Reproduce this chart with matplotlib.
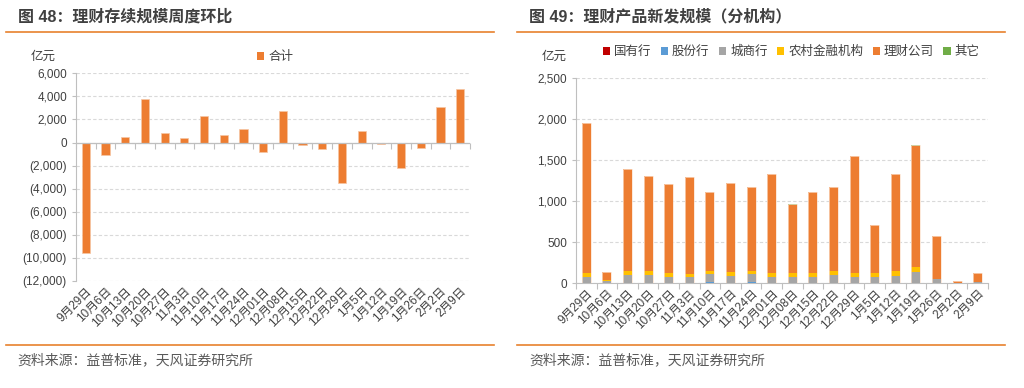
import matplotlib
matplotlib.use("Agg")
import matplotlib.pyplot as plt
from matplotlib.patches import Patch
from matplotlib.ticker import FuncFormatter, FixedLocator
import numpy as np

plt.rcParams['font.family'] = ['Liberation Sans', 'Noto Sans CJK SC', 'DejaVu Sans']

dates = ["9月29日", "10月6日", "10月13日", "10月20日", "10月27日", "11月3日", "11月10日",
         "11月17日", "11月24日", "12月01日", "12月08日", "12月15日", "12月22日", "12月29日",
         "1月5日", "1月12日", "1月19日", "1月26日", "2月2日", "2月9日"]

# Fig 48: weekly change of outstanding wealth-management scale (亿元)
wow_total = [-9600, -1050, 520, 3810, 790, 380, 2300, 670, 1130, -810, 2700, -230, -550,
             -3490, 1020, -140, -2240, -490, 3050, 4620]

# Fig 49: new issuance by institution (亿元)
series_names = ["国有行", "股份行", "城商行", "农村金融机构", "理财公司", "其它"]
guoyou = [0] * 20
gufen = [0, 0, 0, 0, 0, 0, 10, 8, 15, 0, 0, 0, 8, 0, 0, 8, 8, 0, 0, 0]
chengshang = [81, 25, 100, 100, 80, 77, 108, 82, 103, 81, 81, 81, 98, 81, 77, 85, 134, 49, 5, 10]
nongcun = [49, 15, 55, 50, 50, 33, 37, 52, 37, 49, 41, 49, 49, 45, 49, 53, 58, 8, 0, 10]
licai = [1820, 94, 1235, 1159, 1081, 1183, 959, 1078, 1016, 1203, 829, 984, 1024, 1431,
         581, 1187, 1475, 520, 23, 102]
qita = [0, 0, 0, 0, 0, 0, 0, 0, 0, 0, 12, 0, 0, 0, 0, 0, 8, 0, 0, 0]

colors = ["#C00000", "#5B9BD5", "#A5A5A5", "#FFC000", "#ED7D31", "#70AD47"]
ORANGE = "#ED7D31"
LINE = "#E8822E"
TXT = "#404040"
GRID = "#D9D9D9"
AX = "#BFBFBF"

W, H = 1024, 388
fig = plt.figure(figsize=(W / 100, H / 100), dpi=100)


def fx(px):
    return px / W


def fy(py):
    return 1 - py / H


# Titles, rules, sources
fig.text(fx(18), fy(17), "图 48：理财存续规模周度环比", fontsize=11.5, fontweight='bold',
         color=TXT, va='center', ha='left')
fig.text(fx(529), fy(17), "图 49：理财产品新发规模（分机构）", fontsize=11.5, fontweight='bold',
         color=TXT, va='center', ha='left')
for x0, x1 in [(6, 494), (517, 1005)]:
    fig.add_artist(plt.Line2D([fx(x0), fx(x1)], [fy(32), fy(32)], color=LINE, lw=1.2))
    fig.add_artist(plt.Line2D([fx(x0), fx(x1)], [fy(345), fy(345)], color=LINE, lw=1.2))
fig.text(fx(17), fy(360), "资料来源：益普标准，天风证券研究所", fontsize=10, color="#595959",
         va='center', ha='left')
fig.text(fx(529), fy(360), "资料来源：益普标准，天风证券研究所", fontsize=10, color="#595959",
         va='center', ha='left')

x = np.arange(len(dates))

# ---------- Left chart ----------
axL = fig.add_axes([fx(76), fy(281), fx(470) - fx(76), fy(73.3) - fy(281)])
axL.bar(x, wow_total, width=0.42, color=ORANGE, edgecolor="#F6C6A4", linewidth=0.5, zorder=3)
axL.set_xlim(-0.5, len(dates) - 0.5)
axL.set_ylim(-12000, 6000)
axL.set_yticks(np.arange(-12000, 6001, 2000))
axL.yaxis.set_major_formatter(FuncFormatter(
    lambda v, p: f"({abs(int(v)):,})" if v < 0 else f"{int(v):,}"))
axL.grid(axis='y', color=GRID, linestyle=(0, (3, 2)), linewidth=0.8, zorder=0)
for s in ['top', 'right', 'bottom']:
    axL.spines[s].set_visible(False)
axL.spines['left'].set_color(AX)
axL.tick_params(axis='y', colors=AX, labelcolor=TXT, labelsize=8.5, length=3, width=0.8)
axL.set_xticks(x)
axL.set_xticklabels(dates, rotation=45, ha='right', rotation_mode='anchor',
                    fontsize=8.5, color=TXT)
axL.tick_params(axis='x', length=0, pad=3)
axL.axhline(0, color=AX, linewidth=0.9, zorder=4)
zero_loc = 12000 / 18000
sec = axL.secondary_xaxis(zero_loc)
for sp in sec.spines.values():
    sp.set_visible(False)
sec.set_xticks(np.arange(-0.5, len(dates), 1.0))
sec.set_xticklabels([])
sec.tick_params(axis='x', which='major', direction='in', length=4, color=AX, width=0.8,
                labelbottom=False, labeltop=False)
sec.tick_params(axis='x', which='minor', length=0)
fig.text(fx(43), fy(57), "亿元", fontsize=9, color=TXT, ha='center', va='center')
fig.legend(handles=[Patch(facecolor=ORANGE, label="合计")], loc='center',
           bbox_to_anchor=(fx(275), fy(57)), frameon=False, fontsize=9,
           handlelength=0.6, handleheight=0.6, handletextpad=0.3, labelcolor=TXT)

# ---------- Right chart ----------
axR = fig.add_axes([fx(576), fy(283.3), fx(988) - fx(576), fy(78.3) - fy(283.3)])
bottom = np.zeros(len(dates))
handles = []
for name, vals, c in zip(series_names, [guoyou, gufen, chengshang, nongcun, licai, qita], colors):
    vals = np.array(vals, dtype=float)
    axR.bar(x, vals, bottom=bottom, width=0.44, color=c, zorder=3, linewidth=0)
    bottom += vals
    handles.append(Patch(facecolor=c, label=name))
axR.bar(x, bottom, width=0.44, facecolor='none', edgecolor="#FBE0CC", linewidth=0.5, zorder=4)
axR.set_xlim(-0.5, len(dates) - 0.5)
axR.set_ylim(0, 2500)
axR.set_yticks(np.arange(0, 2501, 500))
axR.yaxis.set_major_formatter(FuncFormatter(lambda v, p: f"{int(v):,}"))
axR.grid(axis='y', color=GRID, linestyle=(0, (3, 2)), linewidth=0.8, zorder=0)
for s in ['top', 'right']:
    axR.spines[s].set_visible(False)
axR.spines['left'].set_color(AX)
axR.spines['bottom'].set_color(AX)
axR.tick_params(axis='y', colors=AX, labelcolor=TXT, labelsize=8.5, length=3, width=0.8)
axR.set_xticks(x)
axR.set_xticklabels(dates, rotation=45, ha='right', rotation_mode='anchor',
                    fontsize=8.5, color=TXT)
axR.tick_params(axis='x', which='major', length=0, pad=3)
axR.xaxis.set_minor_locator(FixedLocator(np.arange(-0.5, len(dates), 1.0)))
axR.tick_params(axis='x', which='minor', length=4, colors=AX, width=0.8)
fig.text(fx(554), fy(57), "亿元", fontsize=9, color=TXT, ha='center', va='center')
fig.legend(handles=handles, loc='center', ncol=6, bbox_to_anchor=(fx(791), fy(52)),
           frameon=False, fontsize=9, handlelength=0.6, handleheight=0.6,
           handletextpad=0.3, columnspacing=0.75, labelcolor=TXT)

fig.savefig("out.png", dpi=100, facecolor='white')
